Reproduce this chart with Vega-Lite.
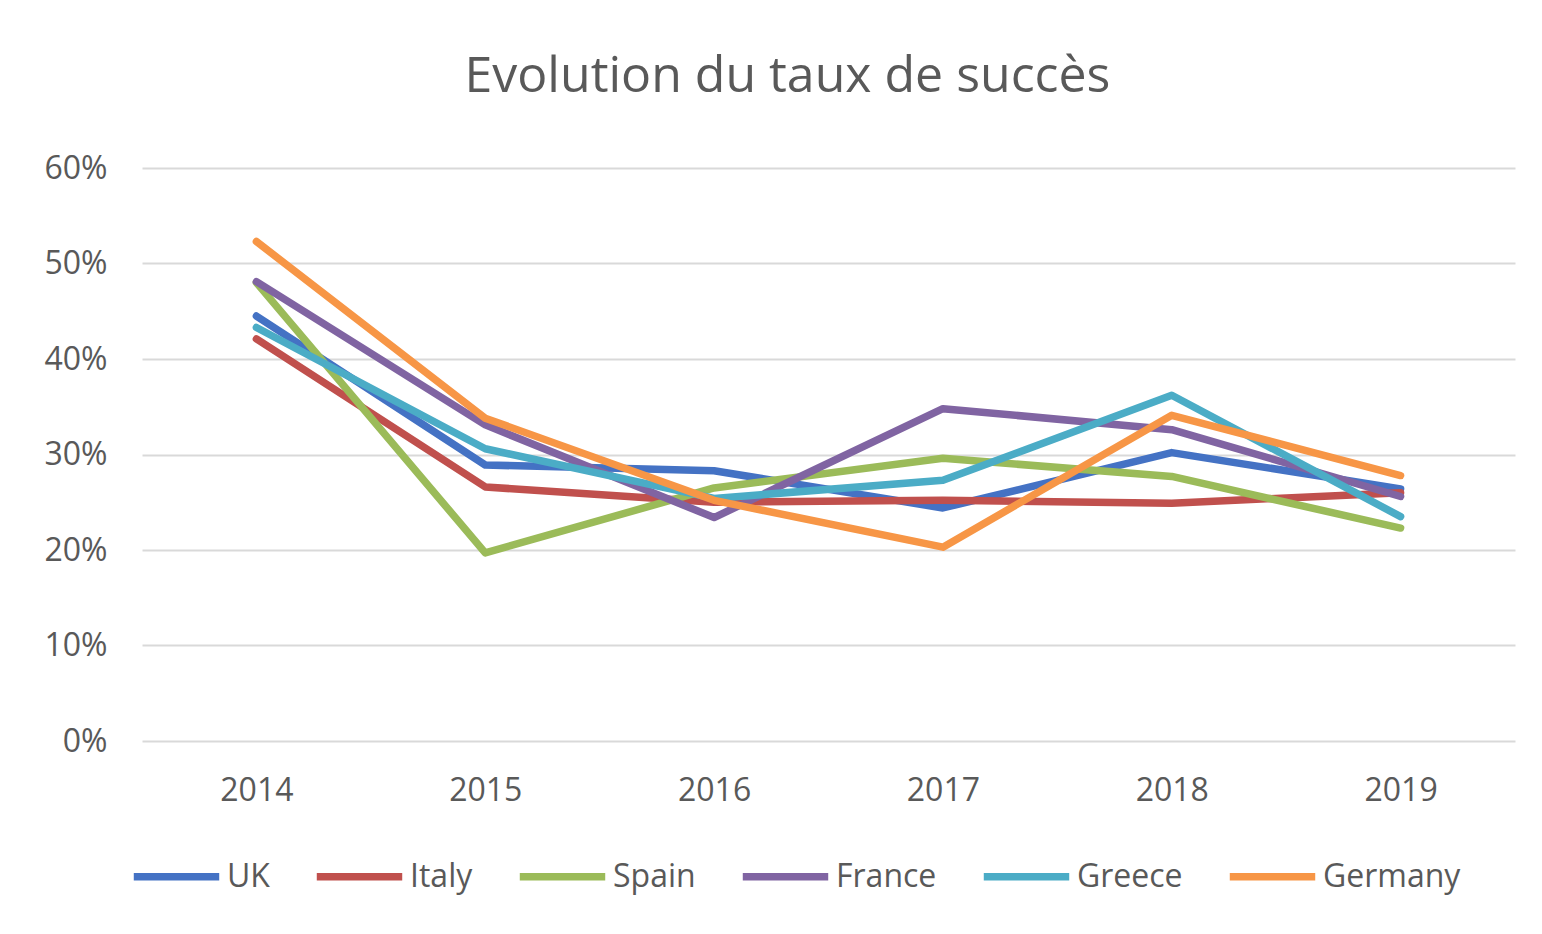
{
  "$schema": "https://vega.github.io/schema/vega-lite/v6.json",
  "autosize": {"type": "none"},
  "width": 1373,
  "height": 573,
  "padding": {"left": 142, "top": 168, "right": 27, "bottom": 193},
  "background": "white",
  "title": {
    "text": "Evolution du taux de succès",
    "font": "Open Sans",
    "fontSize": 50,
    "fontWeight": "normal",
    "color": "#595959",
    "anchor": "middle",
    "frame": "bounds",
    "offset": 50,
    "dx": 8
  },
  "data": {
    "values": [
      {"pays": "UK", "annee": "2014", "taux": 0.445},
      {"pays": "UK", "annee": "2015", "taux": 0.289},
      {"pays": "UK", "annee": "2016", "taux": 0.283},
      {"pays": "UK", "annee": "2017", "taux": 0.244},
      {"pays": "UK", "annee": "2018", "taux": 0.302},
      {"pays": "UK", "annee": "2019", "taux": 0.264},
      {"pays": "Italy", "annee": "2014", "taux": 0.421},
      {"pays": "Italy", "annee": "2015", "taux": 0.266},
      {"pays": "Italy", "annee": "2016", "taux": 0.250},
      {"pays": "Italy", "annee": "2017", "taux": 0.252},
      {"pays": "Italy", "annee": "2018", "taux": 0.249},
      {"pays": "Italy", "annee": "2019", "taux": 0.260},
      {"pays": "Spain", "annee": "2014", "taux": 0.480},
      {"pays": "Spain", "annee": "2015", "taux": 0.197},
      {"pays": "Spain", "annee": "2016", "taux": 0.265},
      {"pays": "Spain", "annee": "2017", "taux": 0.296},
      {"pays": "Spain", "annee": "2018", "taux": 0.277},
      {"pays": "Spain", "annee": "2019", "taux": 0.223},
      {"pays": "France", "annee": "2014", "taux": 0.481},
      {"pays": "France", "annee": "2015", "taux": 0.331},
      {"pays": "France", "annee": "2016", "taux": 0.234},
      {"pays": "France", "annee": "2017", "taux": 0.348},
      {"pays": "France", "annee": "2018", "taux": 0.326},
      {"pays": "France", "annee": "2019", "taux": 0.256},
      {"pays": "Greece", "annee": "2014", "taux": 0.433},
      {"pays": "Greece", "annee": "2015", "taux": 0.306},
      {"pays": "Greece", "annee": "2016", "taux": 0.254},
      {"pays": "Greece", "annee": "2017", "taux": 0.273},
      {"pays": "Greece", "annee": "2018", "taux": 0.362},
      {"pays": "Greece", "annee": "2019", "taux": 0.235},
      {"pays": "Germany", "annee": "2014", "taux": 0.523},
      {"pays": "Germany", "annee": "2015", "taux": 0.338},
      {"pays": "Germany", "annee": "2016", "taux": 0.252},
      {"pays": "Germany", "annee": "2017", "taux": 0.203},
      {"pays": "Germany", "annee": "2018", "taux": 0.341},
      {"pays": "Germany", "annee": "2019", "taux": 0.278}
    ]
  },
  "mark": {"type": "line", "strokeWidth": 7.5, "strokeCap": "round", "strokeJoin": "round"},
  "encoding": {
    "x": {
      "field": "annee",
      "type": "ordinal",
      "scale": {"type": "point", "padding": 0.5},
      "axis": {
        "title": null,
        "labelAngle": 0,
        "domain": false,
        "ticks": false,
        "grid": false,
        "labelFont": "Open Sans",
        "labelFontSize": 32,
        "labelColor": "#595959",
        "labelPadding": 34
      }
    },
    "y": {
      "field": "taux",
      "type": "quantitative",
      "scale": {"domain": [0, 0.6], "nice": false},
      "axis": {
        "title": null,
        "format": ".0%",
        "values": [0, 0.1, 0.2, 0.3, 0.4, 0.5, 0.6],
        "domain": false,
        "ticks": false,
        "grid": true,
        "gridColor": "#d9d9d9",
        "gridWidth": 2,
        "labelFont": "Open Sans",
        "labelFontSize": 32,
        "labelColor": "#595959",
        "labelPadding": 35
      }
    },
    "color": {
      "field": "pays",
      "type": "nominal",
      "sort": ["UK", "Italy", "Spain", "France", "Greece", "Germany"],
      "scale": {
        "domain": ["UK", "Italy", "Spain", "France", "Greece", "Germany"],
        "range": ["#4472C4", "#C0504D", "#9BBB59", "#8064A2", "#4BACC6", "#F79646"]
      },
      "legend": {
        "title": null,
        "orient": "none",
        "direction": "horizontal",
        "legendX": -12,
        "legendY": 662,
        "symbolType": "stroke",
        "symbolSize": 7300,
        "symbolStrokeWidth": 7.5,
        "labelFont": "Open Sans",
        "labelFontSize": 32,
        "labelColor": "#595959",
        "labelOffset": 4,
        "columnPadding": 31
      }
    }
  },
  "config": {"view": {"stroke": null}}
}
